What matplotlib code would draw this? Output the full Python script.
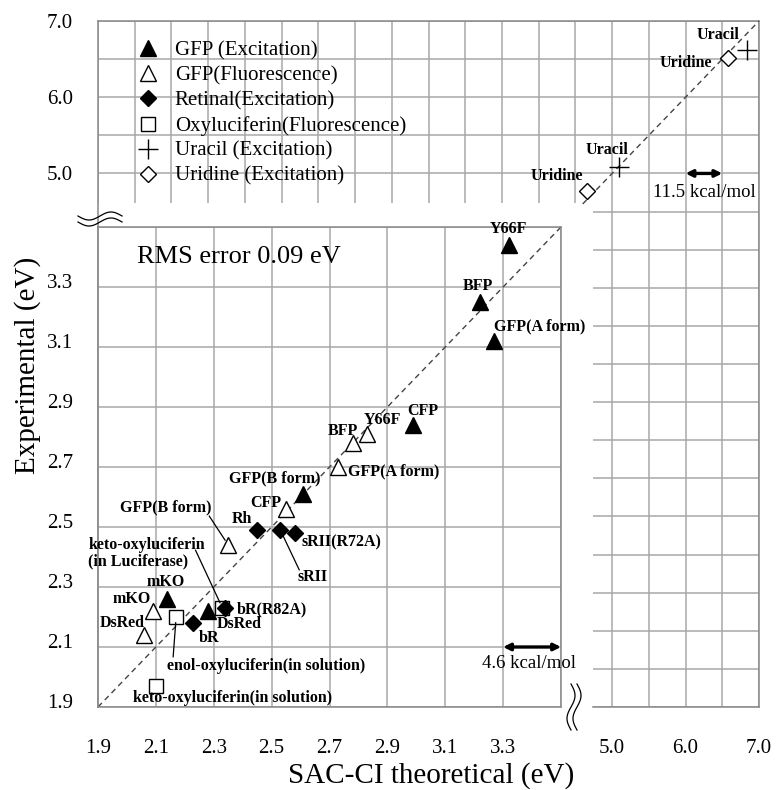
import numpy as np
import matplotlib
matplotlib.use("Agg")
import matplotlib.pyplot as plt
from matplotlib.lines import Line2D
from matplotlib.patches import Rectangle
from matplotlib.transforms import ScaledTranslation

plt.rcParams['font.family'] = ['Liberation Serif', 'DejaVu Serif']

# ---- data (eV) ----
gfp_exc_x = [3.32, 3.22, 3.27, 2.99, 2.61, 2.14, 2.28]
gfp_exc_y = [3.44, 3.25, 3.12, 2.84, 2.61, 2.26, 2.22]
gfp_exc_names = ["Y66F", "BFP", "GFP(A form)", "CFP", "GFP(B form)", "mKO", "DsRed"]

gfp_flu_x = [2.83, 2.78, 2.73, 2.55, 2.35, 2.09, 2.06]
gfp_flu_y = [2.81, 2.78, 2.70, 2.56, 2.44, 2.22, 2.14]
gfp_flu_names = ["Y66F", "BFP", "GFP(A form)", "CFP", "GFP(B form)", "mKO", "DsRed"]

ret_x = [2.45, 2.53, 2.58, 2.34, 2.23]
ret_y = [2.49, 2.49, 2.48, 2.23, 2.18]
ret_names = ["Rh", "sRII", "sRII(R72A)", "bR(R82A)", "bR"]

oxy_x = [2.33, 2.17, 2.10]
oxy_y = [2.23, 2.20, 1.97]
oxy_names = ["keto-oxyluciferin\n(in Luciferase)", "enol-oxyluciferin(in solution)",
             "keto-oxyluciferin(in solution)"]

uracil_x = [5.09, 6.84]
uracil_y = [5.08, 6.62]
uridine_x = [4.66, 6.58]
uridine_y = [4.77, 6.51]

legend_labels = ["GFP (Excitation)", "GFP(Fluorescence)", "Retinal(Excitation)",
                 "Oxyluciferin(Fluorescence)", "Uracil (Excitation)", "Uridine (Excitation)"]

# label placement: (dx, dy) in pixels, horizontal alignment, leader start (dx, dy) or None
exc_lab = [(0, 16, 'center', None), (-2, 16, 'center', None), (0, 15, 'left', None),
           (9, 14, 'center', None), (-29, 16, 'center', None), (-2, 17, 'center', None),
           (9, -13, 'left', None)]
flu_lab = [(15, 14, 'center', None), (-10, 12, 'center', None), (10, -4, 'left', None),
           (-20, 6, 'center', None), (-62, 38, 'center', (-19, 29)), (-21, 12, 'center', None),
           (-22, 12, 'center', None)]
ret_lab = [(-15, 11, 'center', None), (32, -47, 'center', (19, -40)), (7, -9, 'left', None),
           (11, -1, 'left', None), (16, -15, 'center', None)]
oxy_lab = [(-134, 55, 'left', (-27, 58)), (-9, -49, 'left', (-3, -40)), (-23, -12, 'left', None)]
ura_lab = [(-12, 17, 'center'), (-29, 15, 'center')]
uri_lab = [(-30, 15, 'center'), (-42, -5, 'center')]

W, H = 780, 790
fig = plt.figure(figsize=(W / 100, H / 100), dpi=100)
grid_c = '#a8a8a8'


def fbox(x0, y0, x1, y1):
    return [x0 / W, 1 - y1 / H, (x1 - x0) / W, (y1 - y0) / H]


# ---- big background axes (-2..7) ----
axb = fig.add_axes(fbox(98, 21, 759, 707))
axb.set_xlim(-2, 7)
axb.set_ylim(-2, 7)
gt = np.arange(-2, 7.01, 0.5)
lab = [("%.1f" % v if v in (5, 6, 7) else "") for v in gt]
axb.set_xticks(gt, lab)
axb.set_yticks(gt, lab)
axb.grid(True, color=grid_c, lw=1.1)
axb.set_axisbelow(True)
axb.tick_params(length=0, labelsize=15, pad=23)
axb.tick_params(axis='y', pad=18)
for s in axb.spines.values():
    s.set_color('#888888')
    s.set_linewidth(1.1)
axb.spines['bottom'].set_bounds(4.74, 7)
axb.add_patch(Rectangle((-2, -2), 6.74, 6.61, facecolor='white', edgecolor='none', zorder=2))
axb.plot([4.6, 7.0], [4.6, 7.0], ls=(0, (4, 3)), color='#444444', lw=1, zorder=3)

h5, = axb.plot(uracil_x, uracil_y, '+', color='k', ms=14, mew=1, zorder=4)
h6, = axb.plot(uridine_x, uridine_y, 'D', mfc='white', mec='k', ms=8, mew=1, zorder=4)

bold = dict(fontsize=11.5, fontweight='bold', va='center')
for x, y, n, (dx, dy, ha) in zip(uracil_x, uracil_y, ["Uracil", "Uracil"], ura_lab):
    axb.annotate(n, (x, y), xytext=(dx, dy), textcoords='offset pixels', ha=ha, zorder=5, **bold)
for x, y, n, (dx, dy, ha) in zip(uridine_x, uridine_y, ["Uridine", "Uridine"], uri_lab):
    axb.annotate(n, (x, y), xytext=(dx, dy), textcoords='offset pixels', ha=ha, zorder=5, **bold)

arrow_kw = dict(arrowstyle='<|-|>', lw=2.4, color='k', mutation_scale=10, shrinkA=0, shrinkB=0)
axb.annotate('', xy=(6.5, 5.0), xytext=(6.0, 5.0), arrowprops=arrow_kw, zorder=5)
axb.annotate('11.5 kcal/mol', (6.25, 5.0), xytext=(0, -19), textcoords='offset pixels',
             ha='center', va='center', fontsize=13.5, zorder=5)

# ---- inset axes (1.9..3.5) ----
ax = fig.add_axes(fbox(98, 227, 561, 707))
ax.set_xlim(1.9, 3.5)
ax.set_ylim(1.9, 3.5)
t2 = np.round(np.arange(1.9, 3.51, 0.2), 1)
ax.set_xticks(t2, [("%.1f" % v if v < 3.4 else "") for v in t2])
ax.set_yticks(t2, [("%.1f" % v if v < 3.4 else "") for v in t2])
ax.grid(True, color=grid_c, lw=1.1)
ax.set_axisbelow(True)
ax.tick_params(length=0, labelsize=15, pad=23)
ax.tick_params(axis='y', pad=18)
for s in ax.spines.values():
    s.set_color('#888888')
    s.set_linewidth(1.1)
for tl in ax.get_yticklabels():
    tl.set_transform(tl.get_transform() + ScaledTranslation(0, 0.06, fig.dpi_scale_trans))
ax.plot([1.9, 3.5], [1.9, 3.5], ls=(0, (4, 3)), color='#444444', lw=1)

h1, = ax.plot(gfp_exc_x, gfp_exc_y, '^', color='k', ms=11, zorder=4)
h2, = ax.plot(gfp_flu_x, gfp_flu_y, '^', mfc='white', mec='k', ms=11, mew=1, zorder=4)
h4, = ax.plot(oxy_x, oxy_y, 's', mfc='white', mec='k', ms=10, mew=1, zorder=4)
h3, = ax.plot(ret_x, ret_y, 'D', color='k', ms=8, zorder=4)


def label_series(xs, ys, names, spec):
    for x, y, n, (dx, dy, ha, lead) in zip(xs, ys, names, spec):
        ax.annotate(n, (x, y), xytext=(dx, dy), textcoords='offset pixels', ha=ha,
                    zorder=5, linespacing=1.0, **bold)
        if lead is not None:
            ax.annotate('', (x, y), xytext=lead, textcoords='offset pixels', zorder=5,
                        arrowprops=dict(arrowstyle='-', color='k', lw=0.9,
                                        shrinkA=0, shrinkB=4))


label_series(gfp_exc_x, gfp_exc_y, gfp_exc_names, exc_lab)
label_series(gfp_flu_x, gfp_flu_y, gfp_flu_names, flu_lab)
label_series(ret_x, ret_y, ret_names, ret_lab)
label_series(oxy_x, oxy_y, oxy_names, oxy_lab)

ax.annotate('', xy=(3.5, 2.1), xytext=(3.3, 2.1), arrowprops=arrow_kw, zorder=5)
ax.annotate('4.6 kcal/mol', (3.4, 2.1), xytext=(-3, -17), textcoords='offset pixels',
            ha='center', va='center', fontsize=13.5, zorder=5)
ax.text(2.034, 1.9 + (707 - 257) / 300, 'RMS error 0.09 eV', fontsize=19,
        va='center', ha='left')

# ---- legend ----
axb.legend([h1, h2, h3, h4, h5, h6], legend_labels, loc='upper left',
           bbox_to_anchor=(131 / W, 1 - 41 / H), bbox_transform=fig.transFigure,
           frameon=False, fontsize=15, handlelength=1.6, handletextpad=0.5,
           labelspacing=0.26, borderpad=0, borderaxespad=0, numpoints=1)

# ---- axis titles ----
fig.text(431 / W, 1 - 776 / H, 'SAC-CI theoretical (eV)', fontsize=21, ha='center', va='center')
fig.text(28 / W, 1 - 365 / H, 'Experimental (eV)', fontsize=21, ha='center', va='center',
         rotation=90)

# ---- axis break marks ----
t = np.linspace(0, 1, 60)
for off in (-3, 3):
    xs = 78 + 44 * t
    ys = 219 + off + 4 * np.sin(2 * np.pi * t)
    fig.add_artist(Line2D(xs / W, 1 - ys / H, transform=fig.transFigure, color='k', lw=0.9))
    ys2 = 684 + 46 * t
    xs2 = 574 + off + 4 * np.sin(2 * np.pi * t)
    fig.add_artist(Line2D(xs2 / W, 1 - ys2 / H, transform=fig.transFigure, color='k', lw=0.9))

fig.savefig('out.png', dpi=100)
